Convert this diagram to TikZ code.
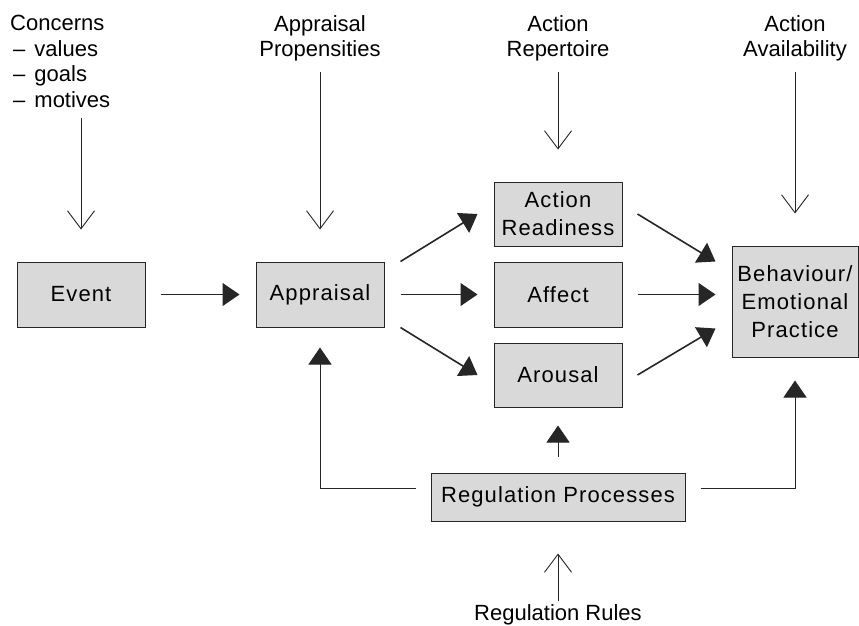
\documentclass[tikz,border=0pt]{standalone}
\usepackage{fontspec}
\setmainfont{Liberation Sans}
\newfontfamily\boxfont[LetterSpace=5]{Liberation Sans}
\usetikzlibrary{arrows.meta}
\tikzset{
  box/.style={draw=black!85, line width=1pt, fill=black!15, align=center, inner sep=0pt,
    font=\boxfont\fontsize{22}{28}\selectfont},
  lab/.style={align=center, inner sep=0pt, font=\fontsize{22}{25.5}\selectfont},
  fa/.style={-{Triangle[length=17pt,width=23pt]}, line width=1pt, draw=black!85},
  fad/.style={fa, line width=1.6pt},
  oa/.style={-{Straight Barb[length=18pt,width=27pt]}, line width=0.9pt, draw=black!85},
}
\newcommand{\dashitem}[1]{\hspace*{3pt}–\hspace*{9pt}#1}
\begin{document}
\begin{tikzpicture}[x=1pt,y=-1pt]
\useasboundingbox[fill=white] (0,0) rectangle (859,626);
% boxes
\node[box, minimum width=128pt, minimum height=65pt] (event) at (81,294.5) {Event};
\node[box, minimum width=128pt, minimum height=65pt] (appr) at (320,294.5) {Appraisal};
\node[box, minimum width=128pt, minimum height=64pt] (ar) at (558,214) {Action\\Readiness};
\node[box, minimum width=128pt, minimum height=65pt] (affect) at (558,294.5) {Affect};
\node[box, minimum width=128pt, minimum height=64pt] (arousal) at (558,375) {Arousal};
\node[box, minimum width=126pt, minimum height=111pt] (beh) at (795,301.5) {Behaviour/\\Emotional\\Practice};
\node[box, minimum width=254pt, minimum height=48pt] (reg) at (558,497) {Regulation Processes};
% labels
\node[lab, align=left, anchor=north west] (conc) at (10,15) {Concerns\\\dashitem{values}\\\dashitem{goals}\\\dashitem{motives}};
\node[lab, anchor=north] (prop) at (320,15) {Appraisal\\Propensities};
\node[lab, anchor=north] (rep) at (558,15) {Action\\Repertoire};
\node[lab, anchor=north] (avail) at (795,15) {Action\\Availability};
\node[lab, anchor=north] (rules) at (558,604) {Regulation Rules};
% open arrows
\draw[oa, shorten <=11pt, shorten >=32pt] (event.north |- conc.south) -- (event.north);
\draw[oa, shorten <=11pt, shorten >=32pt] (prop.south) -- (appr.north);
\draw[oa, shorten <=11pt, shorten >=32pt] (rep.south) -- (ar.north);
\draw[oa, shorten <=11pt, shorten >=32pt] (avail.south) -- (beh.north);
\draw[oa, shorten <=3pt, shorten >=32pt] (rules.north) -- (reg.south);
% filled arrows
\draw[fa, shorten <=15pt, shorten >=16pt] (event.east) -- (appr.west);
\draw[fad] ([xshift=16pt]appr.north east) -- ([xshift=-16pt]ar.west);
\draw[fa, shorten <=16pt, shorten >=16pt] (appr.east) -- (affect.west);
\draw[fad] ([xshift=16pt]appr.south east) -- ([xshift=-16pt]arousal.west);
\draw[fad] ([xshift=15pt]ar.east) -- ([xshift=-16pt,yshift=-16pt]beh.north west);
\draw[fa] ([xshift=15pt]affect.east) -- ([xshift=-16pt]beh.west |- affect.east);
\draw[fad] ([xshift=15pt]arousal.east) -- ([xshift=-16pt,yshift=29pt]beh.south west);
\draw[fa, shorten <=16pt, shorten >=18pt] (reg.north) -- (arousal.south);
\draw[fa] ([xshift=-15pt,yshift=9pt]reg.west) -| ([yshift=-20pt]appr.south);
\draw[fa] ([xshift=15pt,yshift=9pt]reg.east) -| ([yshift=-23pt]beh.south);
\end{tikzpicture}
\end{document}
